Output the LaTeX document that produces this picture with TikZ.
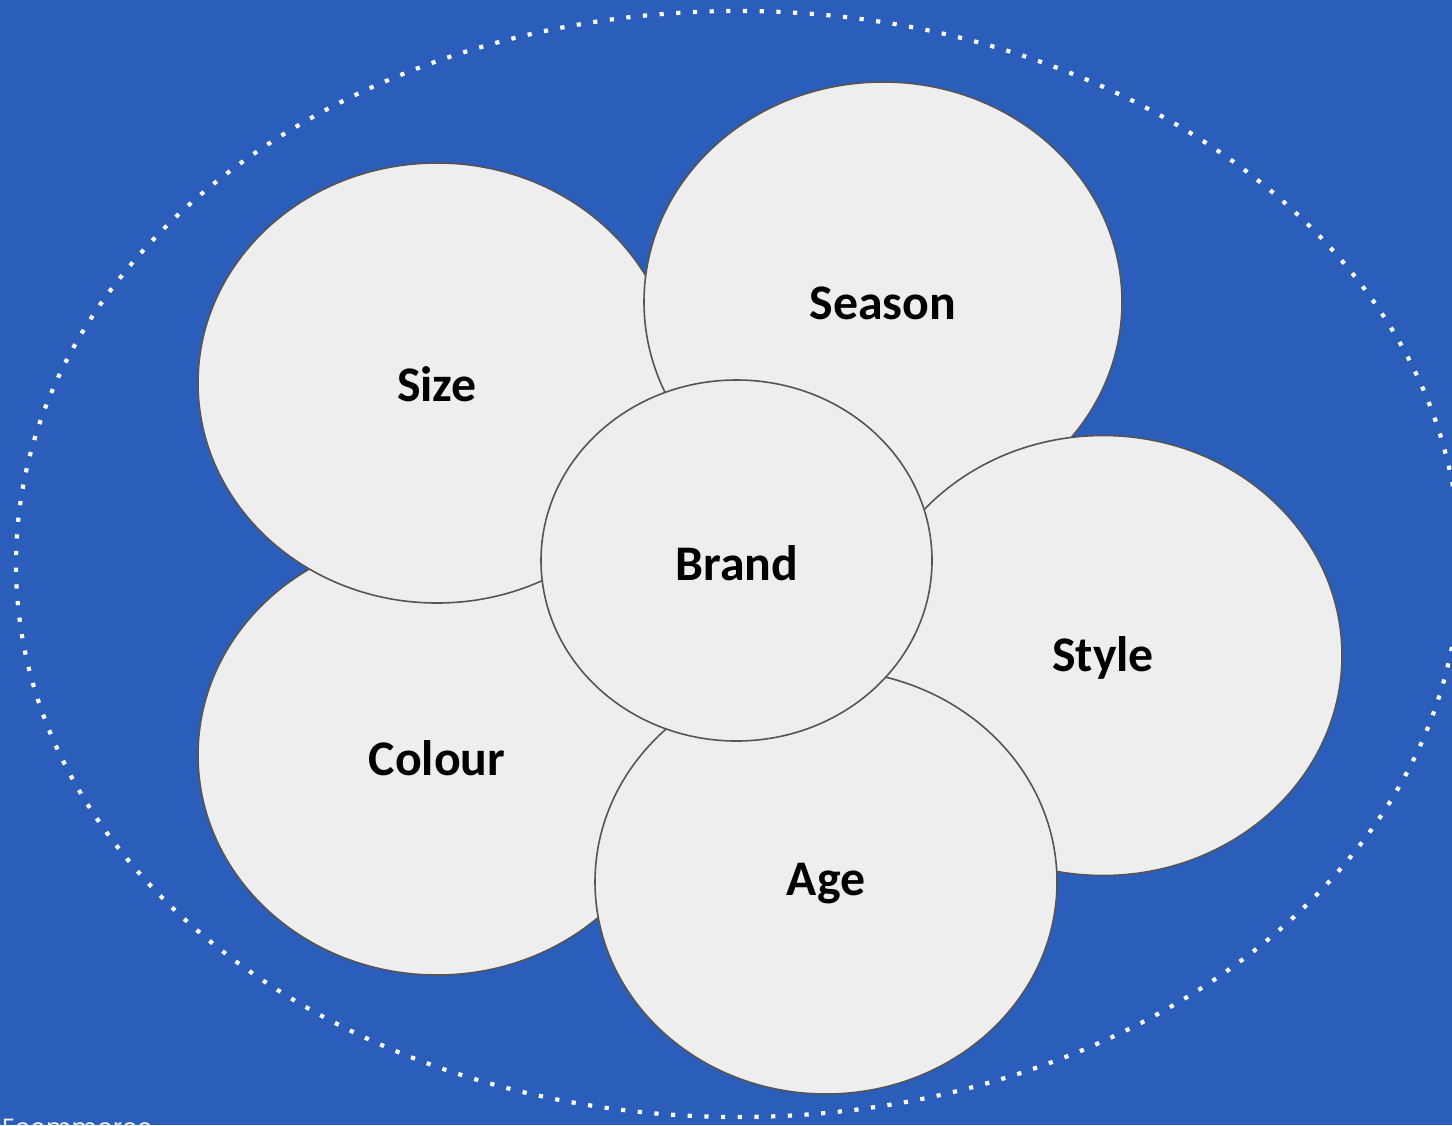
\documentclass[tikz,border=0pt]{standalone}
\usepackage{fontspec}
\setmainfont{Carlito}
\newfontfamily\footerfont{Poppins}
\usetikzlibrary{shapes.geometric}
\definecolor{bgblue}{HTML}{2B5EBB}
\definecolor{bubblefill}{HTML}{EEEEEE}
\definecolor{bubbleline}{HTML}{555555}
\begin{document}
\begin{tikzpicture}[x=1bp,y=-1bp,
  bubble/.style={ellipse, draw=bubbleline, line width=1.6bp, fill=bubblefill,
    inner sep=0pt, minimum width=478bp, minimum height=440bp},
  label/.style={font=\fontsize{50}{58}\selectfont\bfseries, text=black, anchor=center}]
  % canvas
  \fill[bgblue] (0,0) rectangle (1452,1125);
  \useasboundingbox (0,0) rectangle (1452,1125);
  \clip (0,0) rectangle (1452,1125);

  % dotted outer boundary
  \draw[white, line width=4.2bp, dash pattern=on 4.2bp off 12.5bp]
    (738,564) ellipse [x radius=722, y radius=553];

  % petals, back to front
  \node[bubble] (colour) at (437,755) {};
  \node[bubble] (size)   at (437,383) {};
  \node[bubble] (season) at (883,302) {};
  \node[bubble] (style)  at (1103,655.5) {};
  \node[bubble, minimum width=462bp, minimum height=424bp] (age) at (826,882) {};
  \node[bubble, minimum width=391bp, minimum height=361bp] (brand) at (736.5,560.5) {};

  % labels
  \node[label] (tcolour) at (437,758) {Colour};
  \node[label] (tsize)   at (437,384) {Size};
  \node[label] (tseason) at (883,303) {Season};
  \node[label] (tstyle)  at (1103,658) {Style};
  \node[label] (tage)    at (826,884) {Age};
  \node[label] (tbrand)  at (737,563) {Brand};

  % footer
  \node[anchor=base west, inner sep=0pt, text=white!85!gray,
        font=\footerfont\fontsize{25}{30}\selectfont] (footer) at (2,1136) {Ecommerce};
\end{tikzpicture}
\end{document}
